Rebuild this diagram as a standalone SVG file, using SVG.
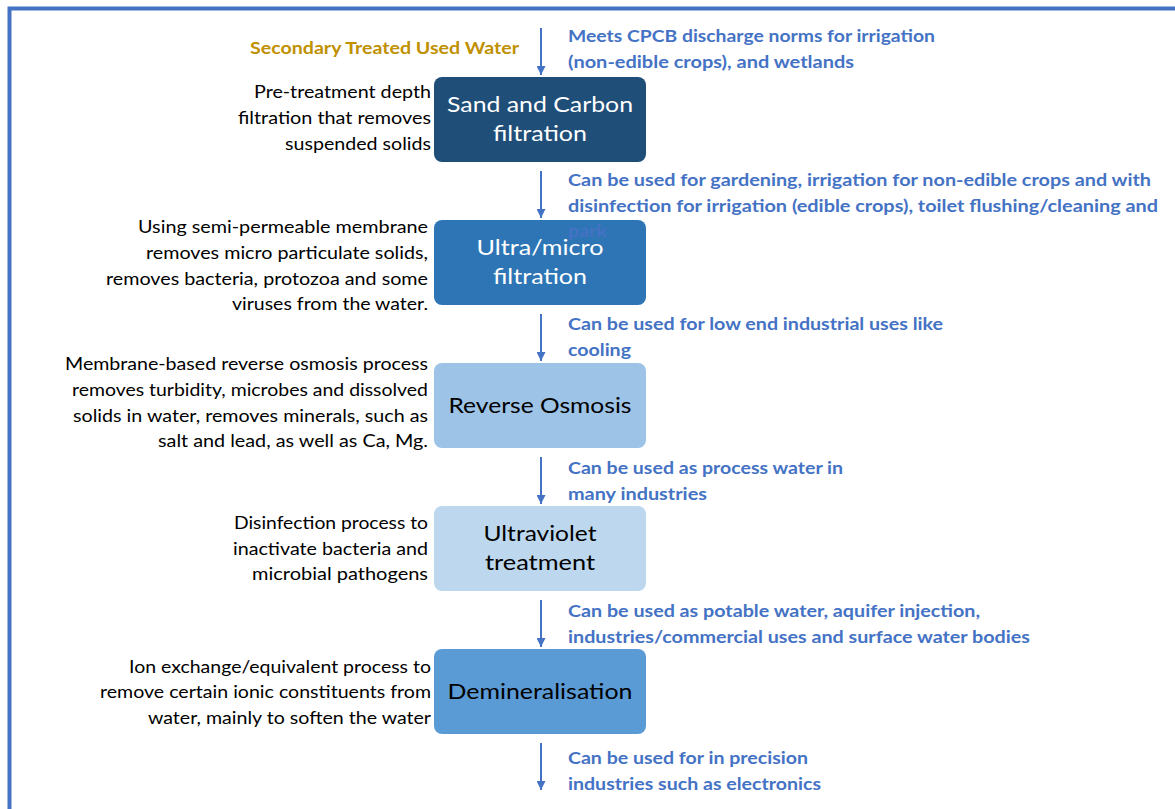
<svg xmlns="http://www.w3.org/2000/svg" width="1175" height="809" viewBox="0 0 1175 809">
<style>
.frame{fill:none;stroke:#4472C4;stroke-width:4}
.box{stroke:none}
.lbl{font-family:Lato,"Liberation Sans",sans-serif;font-size:22px;text-anchor:middle}
.desc{font-family:Lato,"Liberation Sans",sans-serif;font-size:17.5px;fill:#000;text-anchor:end}
.use{font-family:Lato,"Liberation Sans",sans-serif;font-size:17.5px;font-weight:bold;fill:#4472C4}
.src{font-family:Lato,"Liberation Sans",sans-serif;font-size:17.5px;font-weight:bold;fill:#BF9000;text-anchor:end}
.arr{stroke:#4472C4;stroke-width:2;fill:none;marker-end:url(#ah)}
</style>
<defs>
<marker id="ah" viewBox="0 0 10 10" refX="10" refY="5" markerWidth="4.5" markerHeight="4.5" markerUnits="strokeWidth" orient="auto">
<path d="M0,0 L10,5 L0,10 z" fill="#4472C4"/>
</marker>
</defs>
<rect width="1175" height="809" fill="#fff"/>
<rect class="frame" x="9.5" y="8.5" width="1200" height="900"/>

<g id="connectors">
<line class="arr" x1="541" y1="28" x2="541" y2="75"/>
<line class="arr" x1="541" y1="171" x2="541" y2="218"/>
<line class="arr" x1="541" y1="314" x2="541" y2="361"/>
<line class="arr" x1="541" y1="457" x2="541" y2="504"/>
<line class="arr" x1="541" y1="600" x2="541" y2="647"/>
<line class="arr" x1="541" y1="743" x2="541" y2="790"/>
</g>

<g id="source">
<text class="src" x="519" y="54" textLength="269" lengthAdjust="spacingAndGlyphs">Secondary Treated Used Water</text>
</g>

<g id="node-sand-carbon">
<rect class="box" x="434" y="77" width="212" height="85" rx="8" fill="#1F4E79"/>
<text class="lbl" x="540" y="112" fill="#fff" textLength="186" lengthAdjust="spacingAndGlyphs">Sand and Carbon</text>
<text class="lbl" x="540" y="141" fill="#fff" textLength="94" lengthAdjust="spacingAndGlyphs">filtration</text>
</g>
<g id="desc-sand-carbon">
<text class="desc" x="431" y="98" textLength="177" lengthAdjust="spacingAndGlyphs">Pre-treatment depth</text>
<text class="desc" x="431" y="124" textLength="193" lengthAdjust="spacingAndGlyphs">filtration that removes</text>
<text class="desc" x="431" y="150" textLength="146" lengthAdjust="spacingAndGlyphs">suspended solids</text>
</g>
<g id="use-1">
<text class="use" x="568" y="42" textLength="367" lengthAdjust="spacingAndGlyphs">Meets CPCB discharge norms for irrigation</text>
<text class="use" x="568" y="68" textLength="286" lengthAdjust="spacingAndGlyphs">(non-edible crops), and wetlands</text>
</g>

<g id="node-ultra-micro">
<rect class="box" x="434" y="220" width="212" height="85" rx="8" fill="#2E75B6"/>
<text class="lbl" x="540" y="255" fill="#fff" textLength="127" lengthAdjust="spacingAndGlyphs">Ultra/micro</text>
<text class="lbl" x="540" y="284" fill="#fff" textLength="94" lengthAdjust="spacingAndGlyphs">filtration</text>
</g>
<g id="desc-ultra-micro">
<text class="desc" x="428" y="233" textLength="290" lengthAdjust="spacingAndGlyphs">Using semi-permeable membrane</text>
<text class="desc" x="428" y="259" textLength="282" lengthAdjust="spacingAndGlyphs">removes micro particulate solids,</text>
<text class="desc" x="428" y="285" textLength="322" lengthAdjust="spacingAndGlyphs">removes bacteria, protozoa and some</text>
<text class="desc" x="428" y="310" textLength="196" lengthAdjust="spacingAndGlyphs">viruses from the water.</text>
</g>
<g id="use-2">
<text class="use" x="568" y="186" textLength="583" lengthAdjust="spacingAndGlyphs">Can be used for gardening, irrigation for non-edible crops  and with</text>
<text class="use" x="568" y="212" textLength="590" lengthAdjust="spacingAndGlyphs">disinfection for irrigation (edible crops), toilet flushing/cleaning and</text>
<text class="use" x="568" y="237" textLength="39" lengthAdjust="spacingAndGlyphs">park</text>
</g>

<g id="node-reverse-osmosis">
<rect class="box" x="434" y="363" width="212" height="85" rx="8" fill="#9DC3E6"/>
<text class="lbl" x="540" y="413" fill="#000" textLength="183" lengthAdjust="spacingAndGlyphs">Reverse Osmosis</text>
</g>
<g id="desc-reverse-osmosis">
<text class="desc" x="428" y="370" textLength="363" lengthAdjust="spacingAndGlyphs">Membrane-based reverse osmosis process</text>
<text class="desc" x="428" y="396" textLength="356" lengthAdjust="spacingAndGlyphs">removes turbidity, microbes and dissolved</text>
<text class="desc" x="428" y="422" textLength="355" lengthAdjust="spacingAndGlyphs">solids in water, removes minerals, such as</text>
<text class="desc" x="428" y="447" textLength="270" lengthAdjust="spacingAndGlyphs">salt and lead, as well as Ca, Mg.</text>
</g>
<g id="use-3">
<text class="use" x="568" y="330" textLength="375" lengthAdjust="spacingAndGlyphs">Can be used for low end industrial uses like</text>
<text class="use" x="568" y="356" textLength="63" lengthAdjust="spacingAndGlyphs">cooling</text>
</g>

<g id="node-ultraviolet">
<rect class="box" x="434" y="506" width="212" height="85" rx="8" fill="#BDD7EE"/>
<text class="lbl" x="540" y="541" fill="#000" textLength="113" lengthAdjust="spacingAndGlyphs">Ultraviolet</text>
<text class="lbl" x="540" y="570" fill="#000" textLength="110" lengthAdjust="spacingAndGlyphs">treatment</text>
</g>
<g id="desc-ultraviolet">
<text class="desc" x="428" y="529" textLength="194" lengthAdjust="spacingAndGlyphs">Disinfection process to</text>
<text class="desc" x="428" y="555" textLength="195" lengthAdjust="spacingAndGlyphs">inactivate bacteria and</text>
<text class="desc" x="428" y="580" textLength="176" lengthAdjust="spacingAndGlyphs">microbial pathogens</text>
</g>
<g id="use-4">
<text class="use" x="568" y="474" textLength="275" lengthAdjust="spacingAndGlyphs">Can be used as process water in</text>
<text class="use" x="568" y="500" textLength="139" lengthAdjust="spacingAndGlyphs">many industries</text>
</g>

<g id="node-demineralisation">
<rect class="box" x="434" y="649" width="212" height="85" rx="8" fill="#5B9BD5"/>
<text class="lbl" x="540" y="699" fill="#000" textLength="185" lengthAdjust="spacingAndGlyphs">Demineralisation</text>
</g>
<g id="desc-demineralisation">
<text class="desc" x="431" y="673" textLength="302" lengthAdjust="spacingAndGlyphs">Ion exchange/equivalent process to</text>
<text class="desc" x="431" y="698" textLength="331" lengthAdjust="spacingAndGlyphs">remove certain ionic constituents from</text>
<text class="desc" x="431" y="724" textLength="283" lengthAdjust="spacingAndGlyphs">water, mainly to soften the water</text>
</g>
<g id="use-5">
<text class="use" x="568" y="617" textLength="412" lengthAdjust="spacingAndGlyphs">Can be used as potable water, aquifer injection,</text>
<text class="use" x="568" y="643" textLength="462" lengthAdjust="spacingAndGlyphs">industries/commercial uses and surface water bodies</text>
</g>
<g id="use-6">
<text class="use" x="568" y="764" textLength="240" lengthAdjust="spacingAndGlyphs">Can be used for in precision</text>
<text class="use" x="568" y="790" textLength="253" lengthAdjust="spacingAndGlyphs">industries such as electronics</text>
</g>
</svg>
